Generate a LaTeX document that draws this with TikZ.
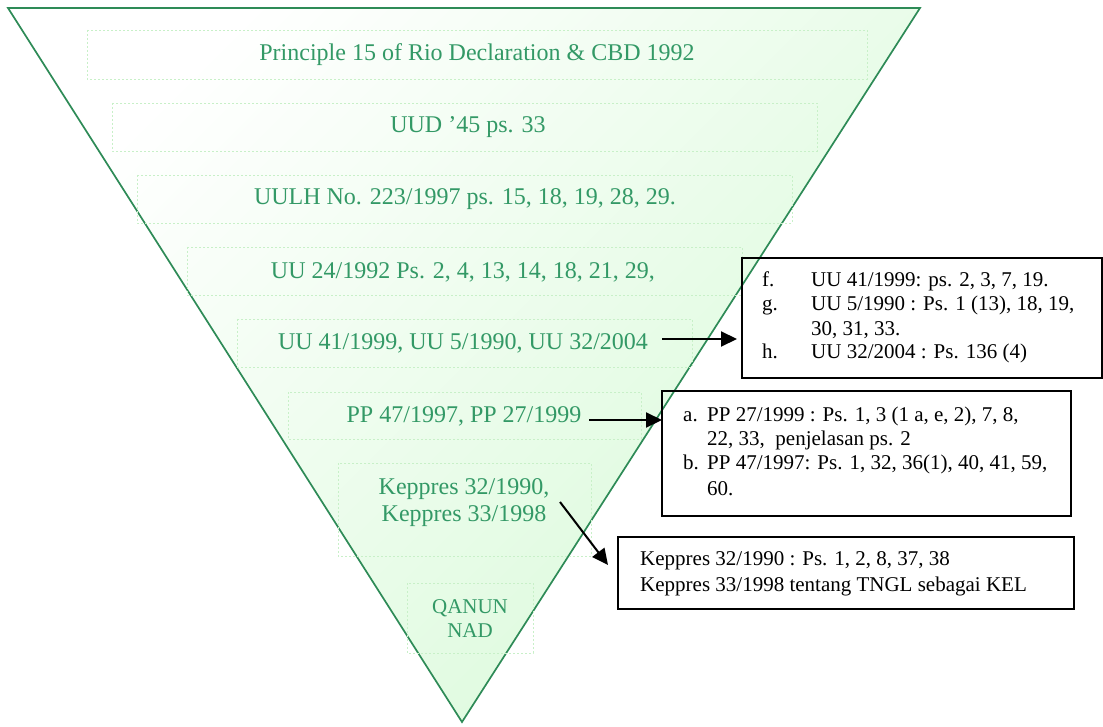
\documentclass[tikz,border=0pt]{standalone}
\usepackage{fontspec}
\setmainfont{Liberation Serif}
\usetikzlibrary{arrows.meta}
\definecolor{edgegreen}{RGB}{46,139,87}
\definecolor{textgreen}{RGB}{51,153,102}
\definecolor{fillgreen}{RGB}{218,250,218}
\definecolor{dashgreen}{RGB}{200,240,200}
\tikzset{
  lvlbox/.style={draw=dashgreen, dash pattern=on 2pt off 2pt, line width=0.6pt},
  lvltext/.style={text=textgreen, font=\fontsize{24}{28}\selectfont, align=center, inner sep=0pt},
  smalllvl/.style={text=textgreen, font=\fontsize{21}{24}\selectfont, align=center, inner sep=0pt},
  refbox/.style={draw=black, line width=1.4pt, inner sep=0pt},
  reftext/.style={font=\fontsize{21}{24}\selectfont, anchor=west, inner sep=0pt, text height=15pt, text depth=5pt},
  arr/.style={-{Triangle[length=16pt,width=15pt]}, line width=2pt, black}
}
\begin{document}
\begin{tikzpicture}[x=1pt,y=-1pt]
\useasboundingbox (0,0) rectangle (1103,727);
% triangle
\shade[shading=axis, left color=white, right color=fillgreen, shading angle=45]
  (8,8) -- (920,8) -- (462,722) -- cycle;
\draw[edgegreen, line width=1.7pt, line join=miter] (8,8) -- (920,8) -- (462,722) -- cycle;
% level boxes
\draw[lvlbox] (87,30) rectangle (867,79);
\draw[lvlbox] (112,103) rectangle (817,151);
\draw[lvlbox] (137,175) rectangle (792,223);
\draw[lvlbox] (187,247) rectangle (742,295);
\draw[lvlbox] (237,319) rectangle (692,367);
\draw[lvlbox] (288,392) rectangle (641,439);
\draw[lvlbox] (338,463) rectangle (591,556);
\draw[lvlbox] (407,583) rectangle (533,653);
% level texts
\node[lvltext] (t1) at (477,55) {Principle 15 of Rio Declaration \& CBD 1992};
\node[lvltext] (t2) at (468,127) {UUD ’45 ps. 33};
\node[lvltext] (t3) at (465,199) {UULH No. 223/1997 ps. 15, 18, 19, 28, 29.};
\node[lvltext] (t4) at (463,272) {UU 24/1992 Ps. 2, 4, 13, 14, 18, 21, 29,};
\node[lvltext] (t5) at (463,343) {UU 41/1999, UU 5/1990, UU 32/2004};
\node[lvltext] (t6) at (464,416) {PP 47/1997, PP 27/1999};
\node[lvltext] (t7) at (464,503) {Keppres 32/1990,\\[-1pt]Keppres 33/1998};
\node[smalllvl] (t8) at (470,619) {QANUN\\NAD};
% reference boxes
\node[refbox, minimum width=360pt, minimum height=120pt] (bF) at (922,318) {};
\node[refbox, minimum width=409pt, minimum height=125pt] (bA) at (866.5,453.5) {};
\node[refbox, minimum width=456pt, minimum height=72pt] (bK) at (846,573) {};
% box F text
\node[reftext] (f1) at (762,282) {f.};
\node[reftext] (f2) at (811,282) {UU 41/1999: ps. 2, 3, 7, 19.};
\node[reftext] (g1) at (762,306) {g.};
\node[reftext] (g2) at (811,306) {UU 5/1990 : Ps. 1 (13), 18, 19,};
\node[reftext] (g3) at (811,330) {30, 31, 33.};
\node[reftext] (h1) at (762,354) {h.};
\node[reftext] (h2) at (811,354) {UU 32/2004 : Ps. 136 (4)};
% box A text
\node[reftext] (a1) at (683,416) {a.};
\node[reftext] (a2) at (707,416) {PP 27/1999 : Ps. 1, 3 (1 a, e, 2), 7, 8,};
\node[reftext] (a3) at (707,440) {22, 33, \ penjelasan ps. 2};
\node[reftext] (b1) at (683,464) {b.};
\node[reftext] (b2) at (707,464) {PP 47/1997: Ps. 1, 32, 36(1), 40, 41, 59,};
\node[reftext] (b3) at (707,490) {60.};
% box K text
\node[reftext] (k1) at (640,560) {Keppres 32/1990 : Ps. 1, 2, 8, 37, 38};
\node[reftext] (k2) at (640,586) {Keppres 33/1998 tentang TNGL sebagai KEL};
% arrows
\coordinate (s5) at (662,339);
\coordinate (e5) at (737,339);
\coordinate (s6) at (589,420);
\coordinate (e6) at (662,420);
\coordinate (s7) at (560,502);
\coordinate (e7) at (608,565);
\draw[arr] (s5) -- (e5);
\draw[arr] (s6) -- (e6);
\draw[arr] (s7) -- (e7);
\end{tikzpicture}
\end{document}
